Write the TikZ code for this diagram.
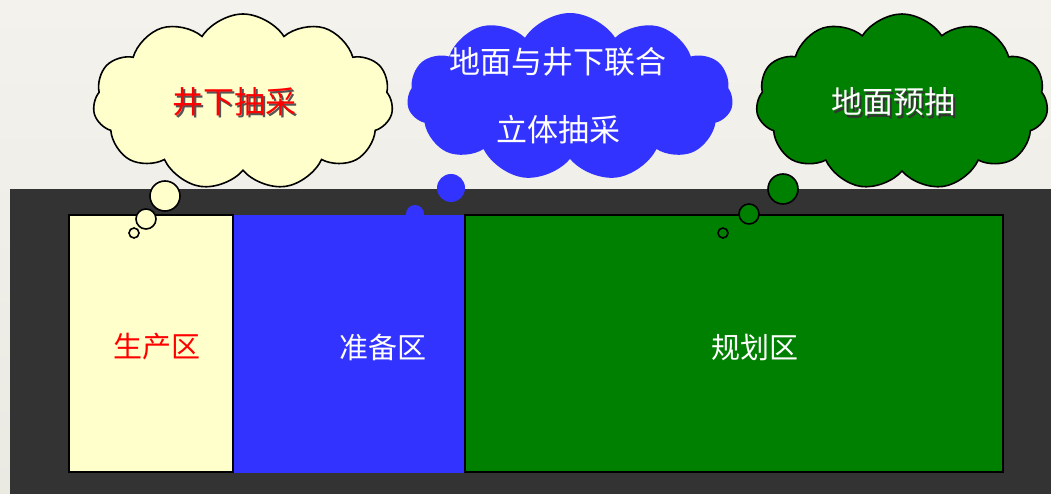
\documentclass[tikz,border=0pt]{standalone}
\usepackage{fontspec}
\newfontfamily\cjk{Noto Sans CJK SC}
\usetikzlibrary{shapes.symbols}
\definecolor{bgtop}{HTML}{F3F2ED}
\definecolor{bgbot}{HTML}{EAE9E2}
\definecolor{ground}{HTML}{333333}
\definecolor{pale}{HTML}{FFFFCC}
\definecolor{myblue}{HTML}{3333FF}
\definecolor{mygreen}{HTML}{008000}
\definecolor{shadowc}{HTML}{555555}
\newcommand{\shadowed}[3]{\makebox[0pt][l]{\hspace{2.5pt}\raisebox{-2.5pt}{\textcolor{#1}{#3}}}\textcolor{#2}{#3}}
\tikzset{
  zone/.style={draw=black, line width=1.6pt},
  puff/.style={cloud, cloud puffs=11, cloud puff arc=115, aspect=1.7, inner sep=0pt, line width=1.6pt},
  bubble/.style={circle, inner sep=0pt, line width=1.6pt},
  bigtxt/.style={font=\cjk\fontsize{31}{31}\selectfont, inner sep=0pt},
  zonetxt/.style={font=\cjk\fontsize{29}{29}\selectfont, inner sep=0pt},
}
\begin{document}
\begin{tikzpicture}[x=1pt,y=-1pt]
\useasboundingbox (0,0) rectangle (1051,494);
\shade[top color=bgtop, bottom color=bgbot] (0,0) rectangle (1051,494);
\fill[ground] (10,189) rectangle (1051,494);
% zones
\node[zone, fill=pale, minimum width=164pt, minimum height=257pt, anchor=north west, inner sep=0pt] (prod) at (68,214) {};
\node[fill=myblue, minimum width=232pt, minimum height=258pt, anchor=north west, inner sep=0pt] (prep) at (232.8,215) {};
\draw[zone] (prod.north east) -- (prod.south east);
\node[zone, fill=mygreen, minimum width=538pt, minimum height=257pt, anchor=north west, inner sep=0pt] (plan) at (464,214) {};
\node[zonetxt, text=red] (tprod) at (157,347) {生产区};
\node[zonetxt, text=white] (tprep) at (383,347) {准备区};
\node[zonetxt, text=white] (tplan) at (755,347) {规划区};
% yellow cloud
\node[puff, draw=black, fill=pale, minimum width=300pt, minimum height=176pt] (cy) at (243,102) {};
\node[bubble, draw=black, fill=pale, minimum size=30pt] (cy1) at (165,196) {};
\node[bubble, draw=black, fill=pale, minimum size=20pt] (cy2) at (146,219) {};
\node[bubble, draw=black, fill=pale, minimum size=10pt] (cy3) at (134,233) {};
\node[bigtxt] (ty) at (234,103) {\shadowed{shadowc}{red}{井下抽采}};
% blue cloud
\node[puff, fill=myblue, minimum width=326pt, minimum height=168pt] (cb) at (570,97) {};
\node[bubble, fill=myblue, minimum size=28pt] (cb1) at (451,188) {};
\node[bubble, fill=myblue, minimum size=18pt] (cb2) at (415,214) {};
\node[bigtxt, text=white] (tb1) at (558,62) {地面与井下联合};
\node[bigtxt, text=white] (tb2) at (558,130) {立体抽采};
% green cloud
\node[puff, draw=black, fill=mygreen, minimum width=292pt, minimum height=176pt] (cg) at (902,102) {};
\node[bubble, draw=black, fill=mygreen, minimum size=30pt] (cg1) at (783,189) {};
\node[bubble, draw=black, fill=mygreen, minimum size=20pt] (cg2) at (749,214) {};
\node[bubble, draw=black, fill=mygreen, minimum size=10pt] (cg3) at (723,233) {};
\node[bigtxt] (tg) at (893,103) {\shadowed{black!80}{white}{地面预抽}};
\end{tikzpicture}
\end{document}
